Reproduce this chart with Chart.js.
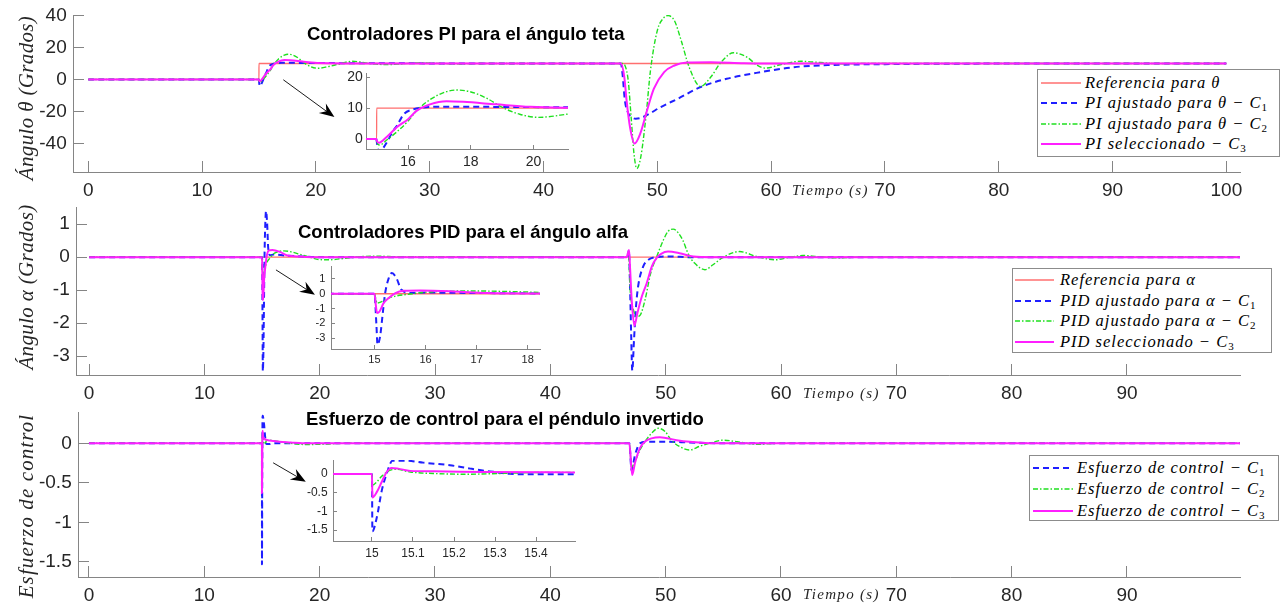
<!DOCTYPE html>
<html lang="es">
<head>
<meta charset="utf-8">
<title>Controladores PI / PID - péndulo invertido</title>
<script src="https://cdn.jsdelivr.net/npm/chart.js@4.4.1/dist/chart.umd.min.js"></script>
<style>
  body { margin: 0; width: 1286px; height: 608px; position: relative; overflow: hidden; background: #fff; font-family: "Liberation Sans", Arial, sans-serif; }
  canvas { position: absolute; }
  .titulo { position: absolute; font-weight: bold; font-size: 18.5px; line-height: 20px; color: #000; white-space: nowrap; }
  .ylab { position: absolute; font: italic 21px/21px "Liberation Serif", serif; color: #262626; white-space: nowrap; transform: translate(-50%, -50%) rotate(-90deg); }
  .xlab { position: absolute; font: italic 15px/15px "Liberation Serif", serif; color: #262626; letter-spacing: 1.3px; white-space: nowrap; }
  .leyenda { position: absolute; box-sizing: border-box; border: 1px solid #8c8c8c; background: #fff; }
  .fila { position: absolute; left: 0; right: 0; height: 20px; }
  .fila span { position: absolute; top: 0; line-height: 20px; white-space: nowrap; font: italic 16.5px/20px "Liberation Serif", serif; letter-spacing: 1px; color: #000; }
  .fila sub { font-style: normal; font-size: 11px; letter-spacing: 0; vertical-align: -3px; line-height: 0; }
</style>
</head>
<body>
<script>
// ---------- datos ----------
// angulo teta (grados)
const tRefTeta = [0, 14.999, 15, 100];
const refTeta = [0, 0, 10, 10];
const tTetaC1 = [0, 14.99, 15.0, 15.04, 15.09, 15.2, 15.35, 15.5, 15.65, 15.87, 16.18, 16.5, 17, 18, 20, 25, 35, 46.8, 46.95, 47.15, 47.4, 47.8, 48.1, 48.6, 49.3, 50.3, 51.8, 53.8, 56.1, 59.1, 62, 65, 70, 75, 80, 85, 100];
const tetaC1 = [0, 0, -0.6, -3.2, -4.2, -3.0, -0.6, 2.2, 4.4, 8.1, 9.6, 10.2, 10.4, 10.4, 10.3, 10.15, 10.05, 10, 3, -13, -20.4, -23.8, -24.6, -24, -21.5, -17.3, -12.1, -4.8, 0.4, 4.6, 7.7, 9.0, 9.6, 9.85, 9.95, 10, 10];
const tTetaC2 = [0, 14.99, 15.0, 15.04, 15.1, 15.32, 15.64, 16.01, 16.27, 16.7, 17.23, 17.55, 17.97, 18.5, 19.03, 19.56, 20.15, 21.05, 22.0, 23.2, 24.7, 26.2, 27.7, 29.2, 30.7, 32.2, 35, 46.9, 47.2, 47.45, 47.7, 47.95, 48.2, 48.55, 49.0, 49.4, 50.0, 50.6, 50.95, 51.5, 52.1, 52.8, 53.8, 54.7, 55.6, 56.7, 57.9, 58.8, 59.5, 60.8, 62.6, 64.3, 66.1, 68, 70, 100];
const tetaC2 = [0, 0, -0.5, -1.6, -1.9, -0.3, 2.3, 5.9, 9.1, 12.7, 15.3, 15.8, 15.3, 13.2, 10.1, 8.0, 7.0, 8.0, 9.6, 11.4, 10.1, 9.3, 9.9, 10.4, 10.05, 9.85, 10, 10, 8, -1, -23.5, -46.4, -55.8, -48.5, -23.5, 5.6, 30.6, 38.9, 40, 36.9, 24.4, 7.7, -4.4, 1.5, 10.8, 16.7, 13.9, 8.8, 7.1, 9.2, 11.4, 10.6, 9.8, 10.1, 10, 10];
const tTetaC3 = [0, 14.99, 15.0, 15.07, 15.32, 15.64, 16.01, 16.27, 16.7, 17.23, 17.76, 18.8, 19.9, 21.05, 23, 46.8, 47.1, 47.3, 47.6, 48.0, 48.5, 49.1, 49.7, 50.6, 51.5, 52.6, 54.7, 57.6, 62, 100];
const tetaC3 = [0, 0, -0.4, -1.2, 0.7, 3.8, 6.5, 9.1, 11.2, 12.2, 12.0, 11.2, 10.4, 10.1, 10, 10, 1.5, -13.1, -29.8, -40.2, -34, -19.4, -5.8, 4.6, 8.75, 10.6, 10.8, 10.2, 10, 10];

// angulo alfa (grados)
const tRefAlfa = [0, 100];
const refAlfa = [0, 0];
const tAlfaC1 = [0, 15.0, 15.04, 15.06, 15.11, 15.17, 15.21, 15.28, 15.34, 15.43, 15.53, 15.7, 16, 17, 18.5, 20, 46.7, 46.8, 46.9, 47.0, 47.1, 47.25, 47.4, 47.6, 48.05, 48.5, 49.2, 50.5, 52, 100];
const alfaC1 = [0, 0, -2.2, -3.45, -2.9, -1.1, 0.05, 1.06, 1.4, 1.06, 0.27, 0.06, 0.08, 0.05, 0.02, 0, 0, 0.2, -0.8, -2.3, -3.44, -2.5, -1.6, -0.9, -0.28, -0.08, 0, 0.02, 0, 0];
const tAlfaC2 = [0, 15.0, 15.05, 15.15, 15.28, 15.44, 15.7, 16.03, 16.55, 16.9, 17.53, 18.25, 19.1, 19.9, 20.8, 21.8, 23.3, 25, 27, 46.8, 46.9, 47.2, 47.5, 47.8, 48.2, 48.7, 49.2, 49.8, 50.2, 50.65, 51.1, 51.5, 52.0, 52.5, 53.4, 54.1, 55.0, 56.4, 57.9, 59.5, 60.8, 61.9, 63.6, 64.8, 67, 100];
const alfaC2 = [0, 0, -0.63, -0.52, -0.29, -0.14, -0.02, 0.11, 0.18, 0.19, 0.16, 0.09, 0, -0.07, -0.08, -0.05, 0.01, 0.03, 0.01, 0, -0.9, -1.6, -1.8, -1.75, -1.3, -0.48, 0, 0.52, 0.78, 0.85, 0.73, 0.5, 0.06, -0.18, -0.38, -0.23, 0, 0.17, 0.02, -0.08, 0, 0.05, 0, -0.02, 0, 0];
const tAlfaC3 = [0, 15.0, 15.03, 15.05, 15.1, 15.18, 15.28, 15.41, 15.57, 15.9, 16.55, 17.2, 18.25, 19.5, 46.6, 46.82, 46.9, 47.05, 47.28, 47.54, 47.92, 48.35, 48.8, 49.2, 49.6, 50.2, 51.2, 52.4, 54, 100];
const alfaC3 = [0, 0, -0.86, -1.3, -1.2, -0.63, -0.29, 0.05, 0.2, 0.22, 0.16, 0.05, 0.02, 0, 0, 0.22, -0.28, -1.3, -2.08, -1.7, -1.2, -0.79, -0.28, -0.03, 0.1, 0.17, 0.12, 0.02, 0, 0];

// esfuerzo de control
const tUC1 = [0, 15.0, 15.001, 15.012, 15.024, 15.036, 15.05, 15.085, 15.125, 15.19, 15.24, 15.27, 15.3, 15.335, 15.4, 15.6, 16, 46.85, 47.05, 47.34, 47.77, 48.35, 50.1, 52.1, 55, 100];
const uC1 = [0, 0, -1.53, -1.15, -0.44, 0.01, 0.35, 0.35, 0.3, 0.23, 0.14, 0.09, 0.05, 0, -0.01, -0.01, 0, 0, -0.34, -0.15, 0, 0.02, 0.02, 0.01, 0, 0];
const tUC2 = [0, 15.0, 15.001, 15.012, 15.024, 15.045, 15.06, 15.093, 15.15, 15.23, 15.31, 15.43, 15.6, 16.1, 17, 18, 19, 20.5, 22, 46.85, 47.05, 47.34, 47.77, 48.2, 48.8, 49.36, 49.95, 50.5, 51.2, 52.1, 52.9, 53.8, 55.0, 56.2, 57.9, 59.9, 100];
const uC2 = [0, 0, -0.3, -0.21, -0.06, 0.1, 0.12, 0.05, 0.01, -0.01, 0.01, 0.04, 0.04, 0.03, 0.01, -0.01, -0.015, -0.01, 0, 0, -0.3, -0.23, -0.085, 0.02, 0.13, 0.19, 0.15, 0.04, -0.04, -0.085, -0.04, 0, 0.04, 0.02, -0.012, 0, 0];
const tUC3 = [0, 15.0, 15.001, 15.012, 15.024, 15.036, 15.048, 15.064, 15.093, 15.15, 15.27, 15.49, 16, 16.5, 17.5, 18.5, 46.85, 47.1, 47.34, 47.77, 48.2, 49.5, 50.95, 52.1, 54.2, 100];
const uC3 = [0, 0, -0.63, -0.48, -0.21, 0.05, 0.16, 0.14, 0.08, 0.07, 0.05, 0.04, 0.03, 0.02, 0.01, 0, 0, -0.4, -0.25, -0.06, 0.02, 0.076, 0.04, 0.02, 0, 0];

// ticks
const ticksTiempo1 = [0, 10, 20, 30, 40, 50, 60, 70, 80, 90, 100];
const ticksTiempo = [0, 10, 20, 30, 40, 50, 60, 70, 80, 90];
const ticksTeta = [-40, -20, 0, 20, 40];
const ticksAlfa = [-3, -2, -1, 0, 1];
const ticksU = [-1.5, -1, -0.5, 0];
const zoomTetaX = [16, 18, 20], zoomTetaY = [0, 10, 20];
const zoomAlfaX = [15, 16, 17, 18], zoomAlfaY = [-3, -2, -1, 0, 1];
const zoomUX = [15, 15.1, 15.2, 15.3, 15.4], zoomUY = [-1.5, -1, -0.5, 0];

// textos
const leyTeta = ['Referencia para θ', 'PI ajustado para θ −  C₁', 'PI ajustado para θ −  C₂', 'PI seleccionado −  C₃'];
const leyAlfa = ['Referencia para α', 'PID ajustado para α −  C₁', 'PID ajustado para α −  C₂', 'PID seleccionado −  C₃'];
const leyU = ['Esfuerzo de control −  C₁', 'Esfuerzo de control −  C₂', 'Esfuerzo de control −  C₃'];

// ---------- estilos ----------
Chart.defaults.font.family = "'Liberation Sans', Arial, sans-serif";
Chart.defaults.color = '#262626';

const estilo = {
  ref: { borderColor: '#ff6f6f', borderWidth: 1.3, borderDash: [], order: 3 },
  c1: { borderColor: '#1f1fff', borderWidth: 2, borderDash: [6, 4], order: 2 },
  c2: { borderColor: '#1fe01f', borderWidth: 1.4, borderDash: [5, 2, 1.5, 2], order: 1 },
  c3: { borderColor: '#ff1fff', borderWidth: 2, borderDash: [], order: 0 }
};

const serie = (t, v, clave, label) => Object.assign({
  label,
  data: t.map((x, i) => ({ x, y: v[i] })),
  pointRadius: 0,
  pointHitRadius: 0,
  fill: false,
  borderJoinStyle: 'round',
  cubicInterpolationMode: 'monotone'
}, estilo[clave]);

// flecha que apunta al zoom (coordenadas en unidades de datos)
const flecha = {
  id: 'flecha',
  afterDatasetsDraw(chart, args, o) {
    const { ctx, scales: { x, y } } = chart;
    const x0 = x.getPixelForValue(o.desde[0]), y0 = y.getPixelForValue(o.desde[1]);
    const x1 = x.getPixelForValue(o.hasta[0]), y1 = y.getPixelForValue(o.hasta[1]);
    const a = Math.atan2(y1 - y0, x1 - x0);
    ctx.save();
    ctx.strokeStyle = '#000';
    ctx.fillStyle = '#000';
    ctx.lineWidth = 0.9;
    ctx.beginPath();
    ctx.moveTo(x0, y0);
    ctx.lineTo(x1 - 10 * Math.cos(a), y1 - 10 * Math.sin(a));
    ctx.stroke();
    ctx.translate(x1, y1);
    ctx.rotate(a);
    ctx.beginPath();
    ctx.moveTo(0, 0);
    ctx.lineTo(-15, -6);
    ctx.lineTo(-10, 0);
    ctx.lineTo(-15, 6);
    ctx.closePath();
    ctx.fill();
    ctx.restore();
  }
};

// fondo blanco del area de los zooms
const fondo = {
  id: 'fondo',
  beforeDraw(chart, args, o) {
    const { ctx, chartArea: a } = chart;
    ctx.save();
    ctx.fillStyle = o.color;
    ctx.fillRect(a.left, a.top, a.right - a.left, a.bottom - a.top);
    ctx.restore();
  }
};

function grafica(caja, area, series, ej) {
  const cv = document.createElement('canvas');
  cv.width = caja.w;
  cv.height = caja.h;
  cv.style.left = caja.x + 'px';
  cv.style.top = caja.y + 'px';
  document.body.appendChild(cv);
  const anchoY = area.l - caja.x;
  const altoX = caja.y + caja.h - area.b;

  const escala = (lim, vals, size, pad, ajuste) => ({
    type: 'linear',
    min: lim[0],
    max: lim[1],
    afterBuildTicks: s => { s.ticks = vals.map(v => ({ value: v })); },
    afterFit: s => {
      ajuste(s);
      s.paddingTop = s.paddingBottom = s.paddingLeft = s.paddingRight = 0;
    },
    ticks: { autoSkip: false, maxRotation: 0, padding: pad, color: '#262626', font: { size }, callback: v => String(v) },
    grid: { drawOnChartArea: false, drawTicks: true, tickLength: ej.tl, color: '#858585', lineWidth: 1 },
    border: { display: true, color: '#858585', width: 1 }
  });

  new Chart(cv, {
    type: 'line',
    data: { datasets: series },
    options: {
      responsive: false,
      animation: false,
      events: [],
      layout: { padding: { left: 0, bottom: 0, top: area.t - caja.y, right: caja.x + caja.w - area.r } },
      plugins: {
        legend: { display: false },
        tooltip: { enabled: false },
        flecha: ej.flecha || false,
        fondo: ej.fondo ? { color: '#fff' } : false
      },
      scales: {
        x: escala(ej.x, ej.xt, ej.fs, ej.px, s => { s.height = altoX; }),
        y: escala(ej.y, ej.yt, ej.fs, ej.py, s => { s.width = anchoY; })
      }
    },
    plugins: [fondo, flecha]
  });
}

// ---------- graficas principales ----------
grafica({ x: 0, y: 0, w: 1286, h: 200 }, { l: 73, t: 15, r: 1240, b: 172 }, [
  serie(tRefTeta, refTeta, 'ref', leyTeta[0]),
  serie(tTetaC1, tetaC1, 'c1', leyTeta[1]),
  serie(tTetaC2, tetaC2, 'c2', leyTeta[2]),
  serie(tTetaC3, tetaC3, 'c3', leyTeta[3])
], { x: [-1.34, 101.2], y: [-58, 40.4], xt: ticksTiempo1, yt: ticksTeta, fs: 19, tl: -11, px: 18.6, py: 17.3,
     flecha: { desde: [17.14, -0.2], hasta: [21.63, -23.6] } });

grafica({ x: 0, y: 200, w: 1286, h: 200 }, { l: 76, t: 207, r: 1240, b: 375 }, [
  serie(tRefAlfa, refAlfa, 'ref', leyAlfa[0]),
  serie(tAlfaC1, alfaC1, 'c1', leyAlfa[1]),
  serie(tAlfaC2, alfaC2, 'c2', leyAlfa[2]),
  serie(tAlfaC3, alfaC3, 'c3', leyAlfa[3])
], { x: [-1.14, 99.8], y: [-3.57, 1.52], xt: ticksTiempo, yt: ticksAlfa, fs: 19, tl: -11, px: 18.6, py: 17.3,
     flecha: { desde: [16.2, -0.385], hasta: [19.58, -1.14] } });

grafica({ x: 0, y: 400, w: 1286, h: 208 }, { l: 78, t: 412, r: 1240, b: 577 }, [
  serie(tUC1, uC1, 'c1', leyU[0]),
  serie(tUC2, uC2, 'c2', leyU[1]),
  serie(tUC3, uC3, 'c3', leyU[2])
], { x: [-0.95, 99.8], y: [-1.69, 0.396], xt: ticksTiempo, yt: ticksU, fs: 19, tl: -11, px: 18.6, py: 17.3,
     flecha: { desde: [15.97, -0.246], hasta: [18.8, -0.486] } });

// ---------- zooms ----------
grafica({ x: 330, y: 62, w: 250, h: 113 }, { l: 366, t: 73, r: 568, b: 149 }, [
  serie(tRefTeta, refTeta, 'ref', leyTeta[0]),
  serie(tTetaC1, tetaC1, 'c1', leyTeta[1]),
  serie(tTetaC2, tetaC2, 'c2', leyTeta[2]),
  serie(tTetaC3, tetaC3, 'c3', leyTeta[3])
], { x: [14.66, 21.1], y: [-3.2, 21.3], xt: zoomTetaX, yt: zoomTetaY, fs: 14, tl: -4, px: 9.1, py: 7.3, fondo: true });

grafica({ x: 296, y: 256, w: 256, h: 119 }, { l: 331, t: 266, r: 540, b: 349 }, [
  serie(tRefAlfa, refAlfa, 'ref', leyAlfa[0]),
  serie(tAlfaC1, alfaC1, 'c1', leyAlfa[1]),
  serie(tAlfaC2, alfaC2, 'c2', leyAlfa[2]),
  serie(tAlfaC3, alfaC3, 'c3', leyAlfa[3])
], { x: [14.15, 18.24], y: [-3.74, 1.88], xt: zoomAlfaX, yt: zoomAlfaY, fs: 11, tl: -4, px: 8.4, py: 9.7, fondo: true });

grafica({ x: 293, y: 450, w: 294, h: 118 }, { l: 333, t: 460, r: 575, b: 541 }, [
  serie(tUC1, uC1, 'c1', leyU[0]),
  serie(tUC2, uC2, 'c2', leyU[1]),
  serie(tUC3, uC3, 'c3', leyU[2])
], { x: [14.905, 15.495], y: [-1.79, 0.37], xt: zoomUX, yt: zoomUY, fs: 12, tl: -4, px: 9.4, py: 9.4, fondo: true });

// ---------- textos y leyendas ----------
function texto(clase, txt, x, y, extra) {
  const d = document.createElement('div');
  d.className = clase;
  d.textContent = txt;
  d.style.left = x + 'px';
  d.style.top = y + 'px';
  if (extra) Object.assign(d.style, extra);
  document.body.appendChild(d);
}

texto('titulo', 'Controladores PI para el ángulo teta', 307, 24.2);
texto('titulo', 'Controladores PID para el ángulo alfa', 298, 221.5);
texto('titulo', 'Esfuerzo de control para el péndulo invertido', 306, 408.5);

texto('ylab', 'Ángulo θ (Grados)', 26, 97.5, { letterSpacing: '0.35px' });
texto('ylab', 'Ángulo α (Grados)', 26, 286.5, { letterSpacing: '0.35px' });
texto('ylab', 'Esfuerzo de control', 26, 505.5, { letterSpacing: '1.1px' });

texto('xlab', 'Tiempo (s)', 792, 182.5);
texto('xlab', 'Tiempo (s)', 803, 385.5);
texto('xlab', 'Tiempo (s)', 803, 587);

function leyenda(caja, etiquetas, claves, y0, paso, muestra, xTexto) {
  const box = document.createElement('div');
  box.className = 'leyenda';
  Object.assign(box.style, { left: caja.x + 'px', top: caja.y + 'px', width: caja.w + 'px', height: caja.h + 'px' });
  etiquetas.forEach((txt, i) => {
    const e = estilo[claves[i]];
    const fila = document.createElement('div');
    fila.className = 'fila';
    fila.style.top = (y0 + i * paso - 10) + 'px';
    const html = txt.replace(/[₁₂₃]/, m => '<sub>' + ('₁₂₃'.indexOf(m) + 1) + '</sub>');
    fila.innerHTML =
      '<svg width="' + muestra[1] + '" height="20" style="position:absolute;left:0;top:0">' +
      '<line x1="' + muestra[0] + '" y1="10" x2="' + muestra[1] + '" y2="10" stroke="' + e.borderColor +
      '" stroke-width="' + e.borderWidth + '" stroke-dasharray="' + e.borderDash.join(' ') + '"/></svg>' +
      '<span style="left:' + xTexto + 'px">' + html + '</span>';
    box.appendChild(fila);
  });
  document.body.appendChild(box);
}

leyenda({ x: 1037, y: 69, w: 243, h: 88 }, leyTeta, ['ref', 'c1', 'c2', 'c3'], 12.7, 20.5, [3, 43], 47);
leyenda({ x: 1012, y: 268, w: 260, h: 85 }, leyAlfa, ['ref', 'c1', 'c2', 'c3'], 11, 20.5, [2, 41], 47);
leyenda({ x: 1029, y: 455, w: 250, h: 66 }, leyU, ['c1', 'c2', 'c3'], 12, 21.3, [3, 43], 47);
</script>
</body>
</html>
